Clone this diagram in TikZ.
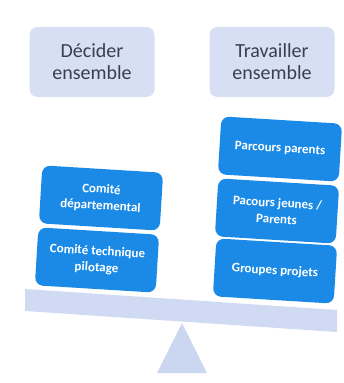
\documentclass[tikz,border=0pt]{standalone}
\usepackage{fontspec}
\setmainfont{Carlito}
\definecolor{hdrfill}{HTML}{D6DFF3}
\definecolor{hdrtext}{HTML}{3A3F4F}
\definecolor{bluebox}{HTML}{1A8AE6}
\definecolor{beamcol}{HTML}{D0DAF2}
\definecolor{pivotcol}{HTML}{CBD6F0}
\begin{document}
\begin{tikzpicture}[x=1pt,y=-1pt,
  hdr/.style={fill=hdrfill, rounded corners=8pt, minimum width=125pt, minimum height=70pt,
    align=center, text=hdrtext, font=\fontsize{20}{22}\selectfont, inner sep=2pt},
  act/.style={fill=bluebox, rounded corners=8pt, minimum width=121pt, minimum height=58pt,
    align=center, text=white, font=\fontsize{13}{16.5}\selectfont\bfseries, inner sep=2pt, rotate=-3.5}]
\useasboundingbox (0,0) rectangle (344,383);
% headers
\node[hdr] (dec) at (92,62) {Décider\\ensemble};
\node[hdr] (trav) at (272,62) {Travailler\\ensemble};
% beam and pivot
\fill[beamcol] (25,289) -- (337,310) -- (337,332) -- (25,311) -- cycle;
\fill[pivotcol] (182,323) -- (207,373) -- (157,373) -- cycle;
% left stack
\node[act] (cd) at (101,198) {Comité\\départemental};
\node[act] (ct) at (97,260) {Comité technique\\pilotage};
% right stack
\node[act] (pp) at (280,149) {Parcours parents};
\node[act] (pj) at (277,211) {Pacours jeunes /\\Parents};
\node[act] (gp) at (275,271) {Groupes projets};
\end{tikzpicture}
\end{document}
